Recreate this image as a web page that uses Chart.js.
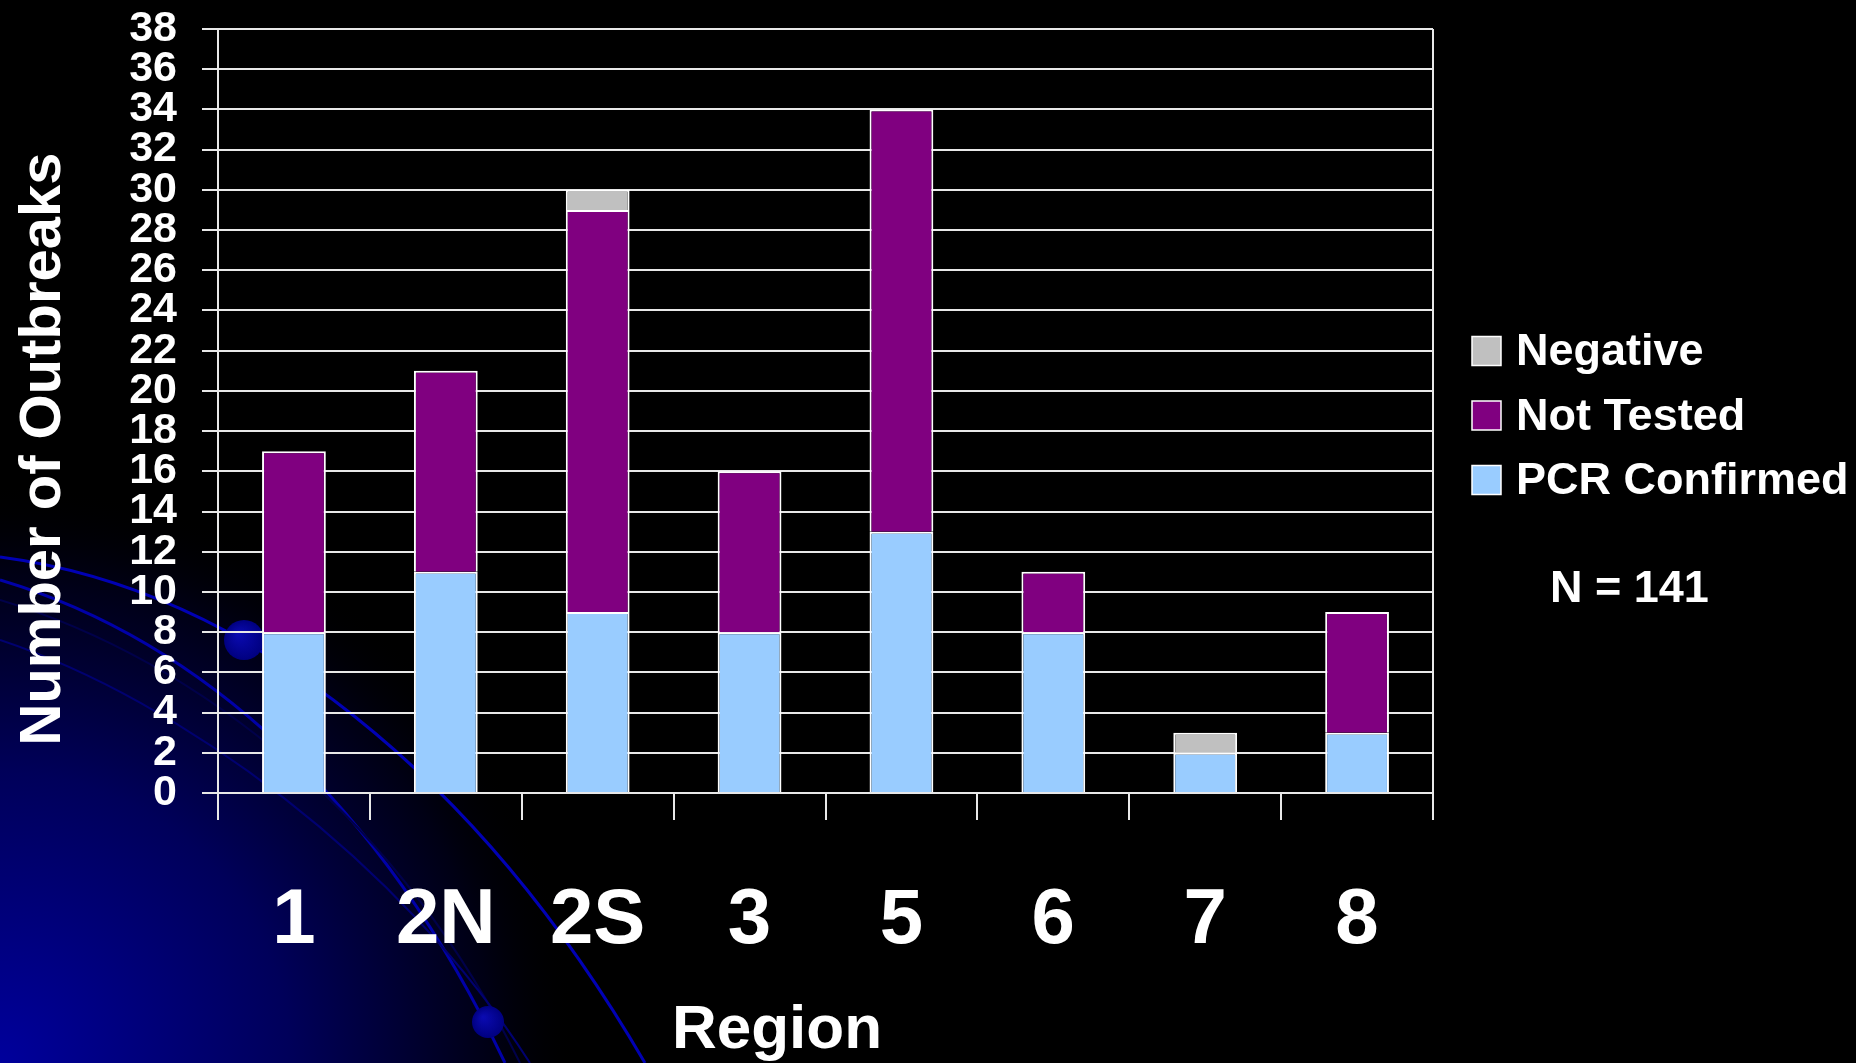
<!DOCTYPE html>
<html>
<head>
<meta charset="utf-8">
<title>Outbreaks by Region</title>
<script src="https://cdn.jsdelivr.net/npm/chart.js@4.4.0/dist/chart.umd.min.js"></script>
<style>
  html, body { margin: 0; padding: 0; background: #000; }
  #wrap { width: 1856px; height: 1063px; }
</style>
</head>
<body>
<div id="wrap"><canvas id="outbreakChart" width="1856" height="1063"></canvas></div>
<script>
// Outbreaks per region, stacked by test result
const regions = ['1', '2N', '2S', '3', '5', '6', '7', '8'];
const pcrConfirmed = [8, 11, 9, 8, 13, 8, 2, 3];
const notTested = [9, 10, 20, 8, 21, 3, 0, 6];
const negative = [0, 0, 1, 0, 0, 0, 1, 0];
const yMax = 38;
const yStep = 2;
const noteText = 'N = 141';

const FONT = '"Liberation Sans", Arial, Helvetica, sans-serif';

// dark blue swoosh in the lower left corner, like the slide template
const backdrop = {
    id: 'backdrop',
    beforeDraw(chart) {
        const { ctx, width, height } = chart;
        ctx.save();
        ctx.fillStyle = '#000';
        ctx.fillRect(0, 0, width, height);
        const g = ctx.createRadialGradient(0, height, 0, 0, height, 580);
        g.addColorStop(0, '#00009c');
        g.addColorStop(0.5, '#00005a');
        g.addColorStop(0.85, '#000014');
        g.addColorStop(1, 'rgba(0,0,0,0)');
        ctx.fillStyle = g;
        ctx.fillRect(0, 0, width, height);

        const curve = (pts, color, w) => {
            ctx.beginPath();
            ctx.moveTo(pts[0], pts[1]);
            ctx.bezierCurveTo(pts[2], pts[3], pts[4], pts[5], pts[6], pts[7]);
            ctx.strokeStyle = color;
            ctx.lineWidth = w;
            ctx.stroke();
        };
        curve([0, 557, 250, 590, 480, 780, 645, 1063], '#0000b4', 3);
        curve([0, 580, 200, 640, 380, 800, 505, 1063], '#0000a8', 3);
        curve([0, 600, 200, 660, 400, 820, 520, 1063], '#00004a', 2);
        curve([0, 640, 180, 700, 400, 860, 530, 1063], '#000070', 2);

        const dot = (x, y, r) => {
            const rg = ctx.createRadialGradient(x - r * 0.3, y - r * 0.3, 1, x, y, r);
            rg.addColorStop(0, '#0a0ab0');
            rg.addColorStop(1, '#000080');
            ctx.beginPath();
            ctx.arc(x, y, r, 0, Math.PI * 2);
            ctx.fillStyle = rg;
            ctx.fill();
        };
        dot(244, 640, 20);
        dot(488, 1022, 16);
        ctx.restore();
    },
    beforeDatasetsDraw(chart) {
        // right hand frame line of the plot area
        const { ctx, chartArea } = chart;
        ctx.save();
        ctx.strokeStyle = '#e8e8e8';
        ctx.lineWidth = 2;
        ctx.beginPath();
        ctx.moveTo(chartArea.right, chartArea.top);
        ctx.lineTo(chartArea.right, chartArea.bottom);
        ctx.stroke();
        ctx.restore();
    }
};

// axis titles, legend and note are placed like on the original slide
const slideText = {
    id: 'slideText',
    afterDraw(chart) {
        const { ctx, chartArea } = chart;
        ctx.save();
        ctx.fillStyle = '#fff';

        ctx.font = 'bold 58px ' + FONT;
        ctx.textAlign = 'center';
        ctx.textBaseline = 'alphabetic';
        ctx.save();
        ctx.translate(60, 449);
        ctx.rotate(-Math.PI / 2);
        ctx.fillText('Number of Outbreaks', 0, 0);
        ctx.restore();

        ctx.font = 'bold 62px ' + FONT;
        ctx.fillText('Region', 777, 1048);

        ctx.font = 'bold 45px ' + FONT;
        ctx.textAlign = 'left';
        ctx.textBaseline = 'middle';
        const boxX = chartArea.right + 39;
        const items = chart.data.datasets.slice().reverse();
        items.forEach((d, i) => {
            const y = 351 + i * 64.5;
            ctx.fillStyle = d.backgroundColor;
            ctx.fillRect(boxX, y - 14.5, 29, 29);
            ctx.strokeStyle = '#fff';
            ctx.lineWidth = 1.5;
            ctx.strokeRect(boxX, y - 14.5, 29, 29);
            ctx.fillStyle = '#fff';
            ctx.fillText(d.label, boxX + 44, y + 2);
        });
        ctx.fillText(noteText, boxX + 78, 590);
        ctx.restore();
    }
};

const ctx = document.getElementById('outbreakChart').getContext('2d');
const chart = new Chart(ctx, {
    type: 'bar',
    data: {
        labels: regions,
        datasets: [
            {
                label: 'PCR Confirmed',
                data: pcrConfirmed,
                backgroundColor: '#99ccff',
                borderColor: '#ffffff',
                borderWidth: 2
            },
            {
                label: 'Not Tested',
                data: notTested,
                backgroundColor: '#800080',
                borderColor: '#ffffff',
                borderWidth: 2
            },
            {
                label: 'Negative',
                data: negative,
                backgroundColor: '#c0c0c0',
                borderColor: '#ffffff',
                borderWidth: 2
            }
        ]
    },
    options: {
        responsive: false,
        animation: false,
        categoryPercentage: 1,
        barPercentage: 0.42,
        layout: { padding: { top: 29, right: 423, bottom: 0, left: 0 } },
        plugins: {
            legend: { display: false },
            tooltip: { enabled: false }
        },
        scales: {
            x: {
                stacked: true,
                grid: { drawOnChartArea: false, color: '#e8e8e8', lineWidth: 2, tickLength: 27 },
                border: { color: '#e8e8e8', width: 2 },
                ticks: {
                    color: '#fff',
                    padding: 55,
                    maxRotation: 0,
                    font: { family: FONT, size: 78, weight: 'bold' }
                },
                afterFit: (scale) => {
                    scale.height = 270;
                    scale.paddingLeft = 0;
                    scale.paddingRight = 0;
                }
            },
            y: {
                stacked: true,
                min: 0,
                max: yMax,
                grid: { color: '#e8e8e8', lineWidth: 2, tickLength: 16 },
                border: { color: '#e8e8e8', width: 2 },
                ticks: {
                    stepSize: yStep,
                    autoSkip: false,
                    color: '#fff',
                    padding: 25,
                    font: { family: FONT, size: 43, weight: 'bold', lineHeight: 1 }
                },
                afterFit: (scale) => {
                    scale.width = 218;
                    scale.paddingTop = 0;
                    scale.paddingBottom = 0;
                }
            }
        }
    },
    plugins: [backdrop, slideText]
});
</script>
</body>
</html>
